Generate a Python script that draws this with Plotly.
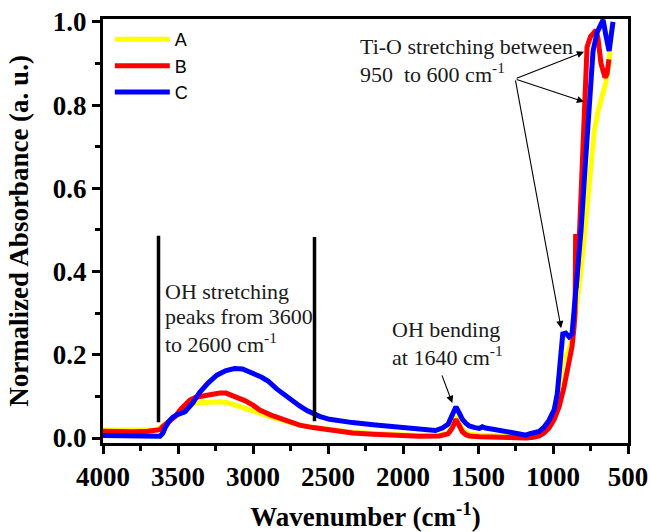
import plotly.graph_objects as go

# ---------------- data ----------------
wn_A = [4000, 3800, 3700, 3640, 3621, 3600, 3560, 3521, 3480, 3421, 3380, 3300, 3222, 3160, 3122, 3050,
        2955, 2880, 2822, 2750, 2689, 2600, 2490, 2400, 2336, 2200, 2110, 2000, 1891, 1758, 1700, 1691,
        1670, 1647, 1625, 1604, 1580, 1558, 1491, 1400, 1300, 1225, 1179, 1130, 1092, 1060, 1026, 992,
        972, 959, 945, 935, 926, 893, 873, 846, 826, 800, 773, 750, 726, 700, 680, 660, 647, 627, 613]
abs_A = [0.019, 0.018, 0.019, 0.020, 0.024, 0.030, 0.040, 0.050, 0.065, 0.079, 0.084, 0.086, 0.087, 0.084,
         0.080, 0.072, 0.060, 0.050, 0.044, 0.037, 0.031, 0.026, 0.021, 0.017, 0.014, 0.011, 0.009, 0.007,
         0.006, 0.007, 0.013, 0.018, 0.030, 0.052, 0.034, 0.020, 0.012, 0.009, 0.007, 0.005, 0.004, 0.003,
         0.003, 0.004, 0.008, 0.016, 0.030, 0.050, 0.075, 0.110, 0.160, 0.185, 0.190, 0.212, 0.236, 0.300,
         0.364, 0.450, 0.550, 0.650, 0.735, 0.785, 0.815, 0.840, 0.855, 0.900, 0.960]

wn_B = [4000, 3900, 3800, 3700, 3640, 3621, 3600, 3560, 3521, 3480, 3421, 3380, 3300, 3222, 3180, 3155,
        3100, 3055, 3000, 2955, 2880, 2822, 2750, 2689, 2600, 2490, 2400, 2336, 2200, 2110, 2000, 1891,
        1758, 1700, 1691, 1670, 1647, 1625, 1604, 1580, 1558, 1491, 1400, 1358, 1225, 1179, 1130, 1092,
        1060, 1026, 992, 959, 926, 893, 873, 860, 853, 849, 845, 838, 826, 813, 800, 786, 773, 750, 730,
        713, 700, 680, 653, 640, 627]
abs_B = [0.016, 0.015, 0.015, 0.016, 0.017, 0.020, 0.028, 0.040, 0.051, 0.070, 0.091, 0.098, 0.104, 0.108,
         0.108, 0.105, 0.098, 0.090, 0.079, 0.067, 0.055, 0.047, 0.038, 0.031, 0.025, 0.019, 0.015, 0.012,
         0.009, 0.007, 0.005, 0.004, 0.005, 0.010, 0.014, 0.025, 0.045, 0.028, 0.015, 0.008, 0.005, 0.003,
         0.002, 0.001, 0.000, 0.000, 0.002, 0.005, 0.012, 0.024, 0.045, 0.075, 0.123, 0.180, 0.220, 0.265,
         0.300, 0.490, 0.360, 0.400, 0.470, 0.600, 0.750, 0.880, 0.940, 0.965, 0.975, 0.980, 0.960, 0.900,
         0.866, 0.875, 0.910]

wn_C = [4000, 3900, 3800, 3700, 3640, 3620, 3600, 3587, 3560, 3534, 3500, 3454, 3400, 3355, 3300, 3241,
        3180, 3122, 3070, 3022, 2980, 2942, 2900, 2842, 2780, 2689, 2640, 2589, 2556, 2490, 2400, 2336,
        2200, 2110, 2000, 1891, 1784, 1738, 1700, 1691, 1670, 1647, 1625, 1604, 1580, 1558, 1520, 1491,
        1471, 1450, 1400, 1358, 1300, 1225, 1200, 1179, 1159, 1130, 1092, 1060, 1026, 992, 972, 959, 946,
        935, 915, 893, 873, 860, 846, 826, 813, 786, 760, 733, 706, 673, 666, 646, 626, 600]
abs_C = [0.006, 0.005, 0.004, 0.005, 0.003, 0.004, 0.012, 0.024, 0.040, 0.050, 0.057, 0.063, 0.085, 0.110,
         0.132, 0.151, 0.162, 0.167, 0.166, 0.160, 0.152, 0.146, 0.137, 0.118, 0.100, 0.077, 0.066, 0.057,
         0.052, 0.045, 0.040, 0.037, 0.032, 0.029, 0.025, 0.021, 0.018, 0.024, 0.033, 0.040, 0.055, 0.075,
         0.060, 0.045, 0.035, 0.029, 0.025, 0.023, 0.027, 0.024, 0.021, 0.018, 0.015, 0.011, 0.009, 0.007,
         0.010, 0.012, 0.016, 0.026, 0.043, 0.068, 0.105, 0.155, 0.220, 0.250, 0.252, 0.243, 0.250, 0.300,
         0.364, 0.445, 0.500, 0.650, 0.800, 0.930, 0.975, 1.000, 1.005, 0.965, 0.930, 1.000]

series = [("A", wn_A, abs_A, "#FFFF00"), ("B", wn_B, abs_B, "#FF0000"), ("C", wn_C, abs_C, "#0000FF")]

# OH-stretching range markers (wavenumber, y from, y to)
marker_wn = [3630, 2590]
marker_y0 = [0.038, 0.040]
marker_y1 = [0.486, 0.483]

x_ticks = [4000, 3500, 3000, 2500, 2000, 1500, 1000, 500]
y_ticks = [0.0, 0.2, 0.4, 0.6, 0.8, 1.0]

SERIF = "Times New Roman, Liberation Serif, serif"

fig = go.Figure()
for name, xs, ys, col in series:
    fig.add_trace(go.Scatter(x=xs, y=ys, mode="lines", name=name,
                             line=dict(color=col, width=5)))

for xv, a, b in zip(marker_wn, marker_y0, marker_y1):
    fig.add_shape(type="line", xref="x", yref="y", x0=xv, x1=xv, y0=a, y1=b,
                  line=dict(color="black", width=3.5))

txt_font = dict(family=SERIF, size=22, color="#1a1a1a")
texts = [
    ("Ti-O stretching between", 2303, 0.940),
    ("950 &nbsp;to 600 cm<sup>-1</sup>", 2303, 0.877),
    ("OH stretching", 3601, 0.351),
    ("peaks from 3600", 3601, 0.291),
    ("to 2600 cm<sup>-1</sup>", 3601, 0.228),
    ("OH bending", 2090, 0.260),
    ("at 1640 cm<sup>-1</sup>", 2090, 0.197),
]
for t, xv, yv in texts:
    fig.add_annotation(text=t, x=xv, y=yv, xref="x", yref="y", showarrow=False,
                       xanchor="left", yanchor="middle", font=txt_font)

arrows = [
    ((1252, 0.863), (793, 0.928)),
    ((1252, 0.863), (793, 0.808)),
    ((1252, 0.863), (946, 0.264)),
    ((1744, 0.154), (1671, 0.084)),
]
for (tx, ty), (hx, hy) in arrows:
    fig.add_annotation(text="", x=hx, y=hy, ax=tx, ay=ty, xref="x", yref="y",
                       axref="x", ayref="y", showarrow=True, arrowhead=2,
                       arrowsize=1.3, arrowwidth=1.1, arrowcolor="black", standoff=0)

fig.update_layout(
    width=650, height=532,
    margin=dict(l=103, r=22, t=19, b=89, autoexpand=False),
    plot_bgcolor="white", paper_bgcolor="white",
    showlegend=True,
    legend=dict(x=0.013, y=0.995, xanchor="left", yanchor="top",
                font=dict(family="Arial, Liberation Sans, sans-serif", size=18, color="black"),
                bgcolor="rgba(0,0,0,0)", itemwidth=55, tracegroupgap=0),
    xaxis=dict(range=[4000, 500], tickvals=x_ticks, ticktext=[str(v) for v in x_ticks],
               automargin=False, ticklabeloverflow="allow",
               showgrid=False, zeroline=False, showline=True, mirror=True,
               linecolor="black", linewidth=3, ticks="outside", ticklen=8, tickwidth=2.5,
               tickcolor="black",
               minor=dict(dtick=250, ticks="outside", ticklen=5, tickwidth=2.5, tickcolor="black"),
               tickfont=dict(family=SERIF, size=27, color="black", weight="bold"),
               title=dict(text="Wavenumber (cm<sup>-1</sup>)",
                          font=dict(family=SERIF, size=27, color="black", weight="bold"),
                          standoff=17)),
    yaxis=dict(range=[-0.012, 1.007], tickvals=y_ticks, ticktext=["%.1f" % v for v in y_ticks],
               automargin=False, ticklabeloverflow="allow",
               showgrid=False, zeroline=False, showline=True, mirror=True,
               linecolor="black", linewidth=3, ticks="outside", ticklen=8, tickwidth=2.5,
               tickcolor="black",
               minor=dict(dtick=0.1, ticks="outside", ticklen=5, tickwidth=2.5, tickcolor="black"),
               tickfont=dict(family=SERIF, size=27, color="black", weight="bold"),
               title=dict(text="Normalized Absorbance (a. u.)",
                          font=dict(family=SERIF, size=27, color="black", weight="bold"),
                          standoff=17)),
)

# remove the browser's default 8px body margin so the figure sits at the window origin
fig.write_html("out.html", config={"displayModeBar": False},
               post_script="document.body.style.margin='0px';document.body.style.overflow='hidden';")
